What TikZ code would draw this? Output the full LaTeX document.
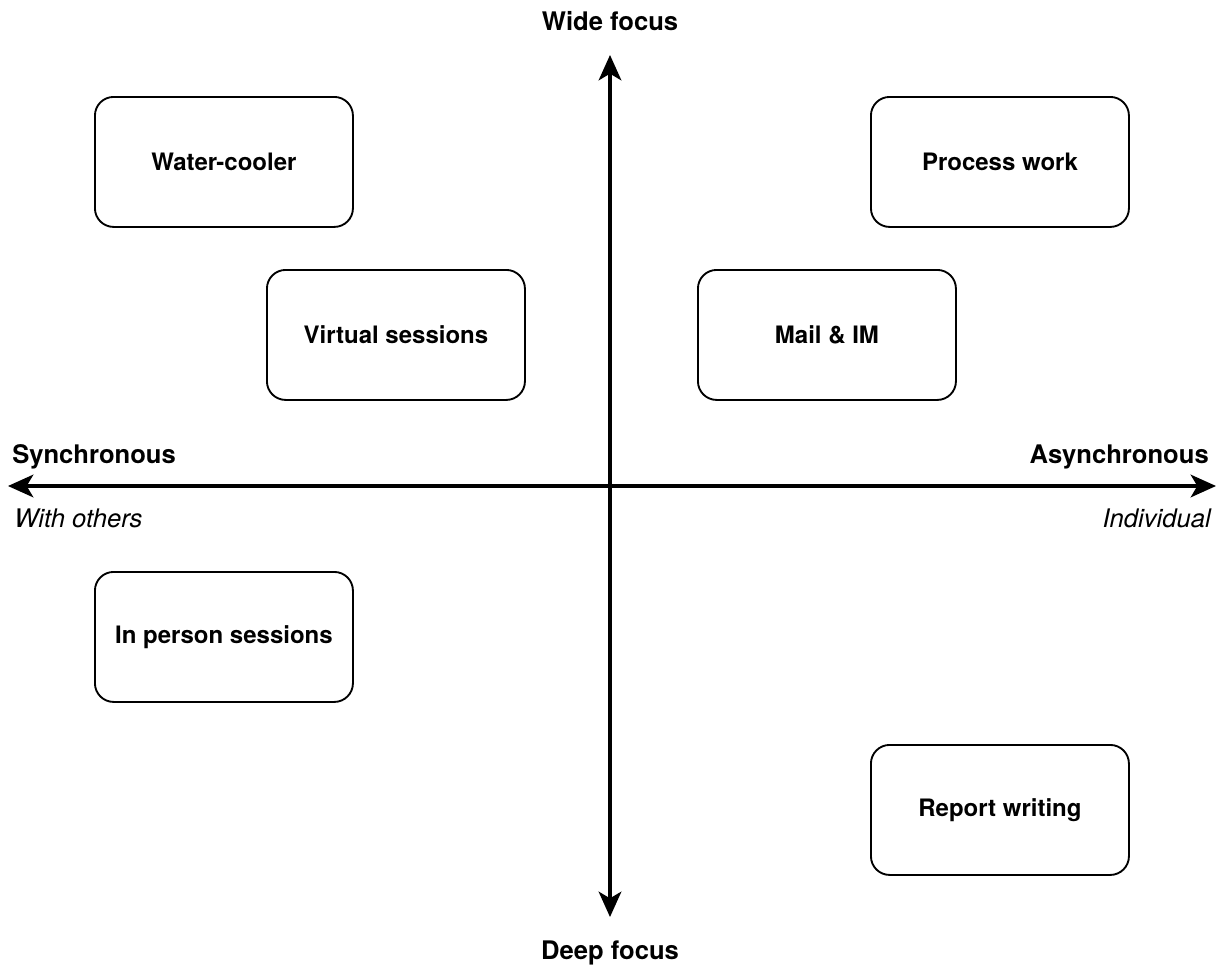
\documentclass[tikz,border=0pt]{standalone}
\usepackage{fontspec}
\setmainfont{TeX Gyre Heros}
\usetikzlibrary{arrows.meta}
\begin{document}
\begin{tikzpicture}[x=0.75pt,y=-0.75pt,
  box/.style={draw=black,line width=1.4pt,rounded corners=14pt,minimum width=193.5pt,minimum height=97.5pt,inner sep=0pt,font=\fontsize{18pt}{20pt}\selectfont\bfseries,anchor=north west},
  axis/.style={line width=2.3pt,{Stealth[length=19pt,width=17pt,inset=5pt]}-{Stealth[length=19pt,width=17pt,inset=5pt]}},
  albl/.style={font=\fontsize{19.2pt}{22pt}\selectfont\bfseries,inner sep=0pt},
  ilbl/.style={font=\fontsize{19.2pt}{22pt}\selectfont\itshape,inner sep=0pt}]
\useasboundingbox (0,0) rectangle (1225,967);
\node[box] (wc) at (94,96) {Water-cooler};
\node[box] (vs) at (266,269) {Virtual sessions};
\node[box] (pw) at (870,96) {Process work};
\node[box] (mi) at (697,269) {Mail \& IM};
\node[box] (ip) at (94,571) {In person sessions};
\node[box] (rw) at (870,744) {Report writing};
\coordinate (L) at (8,486);
\coordinate (R) at (1216,486);
\coordinate (T) at (610,55);
\coordinate (B) at (610,917);
\draw[axis] (L) -- (R);
\draw[axis] (T) -- (B);
\node[albl,anchor=base] (wf) at (610,31) {Wide focus};
\node[albl,anchor=base] (df) at (610,959) {Deep focus};
\node[albl,anchor=base west] (sy) at (12,463) {Synchronous};
\node[albl,anchor=base east] (as) at (1209,463) {Asynchronous};
\node[ilbl,anchor=base west] (wo) at (14,527) {With others};
\node[ilbl,anchor=base east] (in) at (1211,527) {Individual};
\end{tikzpicture}
\end{document}
